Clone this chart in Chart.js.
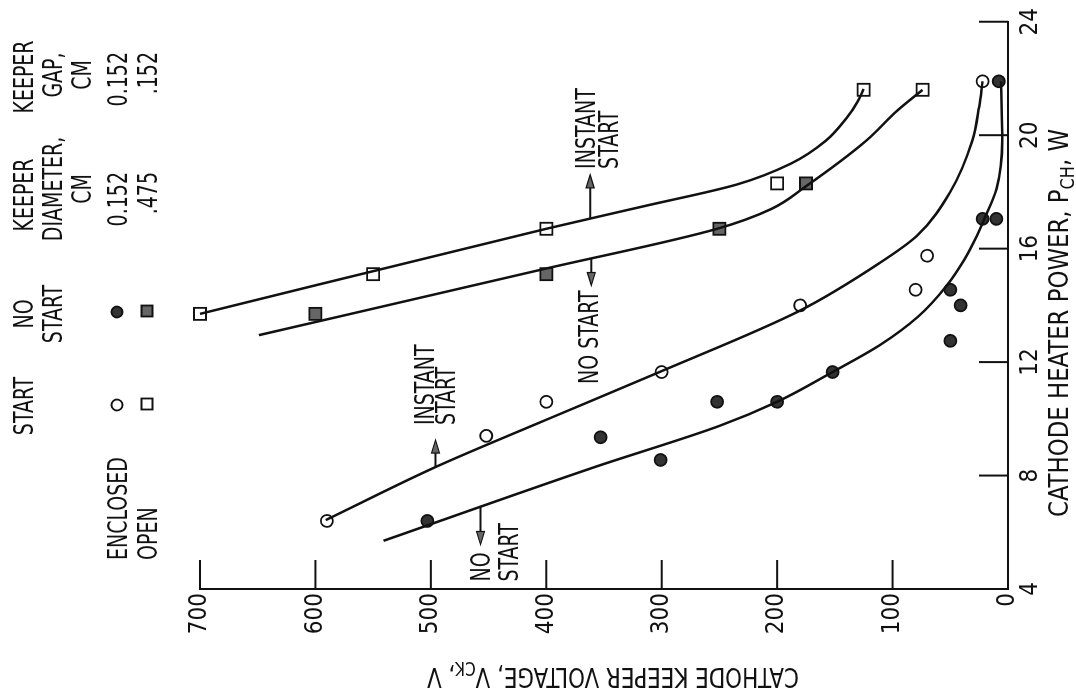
<!DOCTYPE html>
<html>
<head>
<meta charset="utf-8">
<title>Cathode keeper voltage vs heater power</title>
<script src="https://cdn.jsdelivr.net/npm/chart.js@4.4.1/dist/chart.umd.min.js"></script>
<style>
  html, body { margin: 0; padding: 0; background: #fff; overflow: hidden; }
  body { width: 1076px; height: 697px; position: relative; }
  /* the figure is printed sideways on the page: draw it upright, then turn it */
  #frame { position: absolute; left: 0; top: 697px; width: 697px; height: 1076px; transform-origin: 0 0; transform: rotate(-90deg); }
</style>
</head>
<body>
<div id="frame"><canvas id="chart" width="697" height="1076"></canvas></div>
<script>
const powerTicks = [4, 8, 12, 16, 20, 24];
const voltTicks = [0, 100, 200, 300, 400, 500, 600, 700];

// enclosed keeper (circles)
const enclStartP = [6.4, 9.4, 10.6, 11.65, 14.0, 14.55, 15.75, 21.9];
const enclStartV = [590, 452, 400, 300, 180, 80, 70, 22];
const enclNoStartP = [6.4, 8.55, 9.35, 10.6, 10.6, 11.65, 12.75, 14.0, 14.55, 17.05, 17.05, 21.9];
const enclNoStartV = [503, 301, 353, 252, 200, 152, 50, 41, 50, 22, 10, 8];

// open keeper (squares)
const openStartP = [13.7, 15.1, 16.7, 18.3, 21.6];
const openStartV = [700, 550, 400, 200, 125];
const openNoStartP = [13.7, 15.1, 16.7, 18.3];
const openNoStartV = [600, 400, 250, 175];
const openDotP = [21.6];
const openDotV = [74];

// faired boundary curves
const enclInstantP = [6.43, 8.3, 9.95, 11.65, 13.8, 15.5, 16.45, 18.0, 19.8, 21.0, 21.9];
const enclInstantV = [591, 496, 401, 302, 181, 111, 79, 50, 31, 25, 22];
const enclNoneP = [5.7, 8.3, 9.75, 10.6, 11.65, 12.6, 13.6, 14.7, 15.6, 16.45, 17.0, 18.1, 19.8, 21.9];
const enclNoneV = [541, 358, 250, 200, 152, 111, 78, 53, 38, 27, 21, 10, 5, 6];
const openInstantP = [13.7, 16.7, 17.5, 18.26, 19.0, 19.8, 20.6, 21.2, 21.63];
const openInstantV = [700, 400, 315, 235, 188, 158, 140, 130, 125];
const openNoneP = [12.95, 15.3, 16.7, 17.4, 18.2, 19.8, 20.9, 21.6];
const openNoneV = [649, 400, 252, 205, 175, 123, 95, 74];

const INK = '#111';
const FONT = '"Liberation Sans Narrow", "DejaVu Sans Condensed", "Liberation Sans", sans-serif';
const MAIN = '27px ' + FONT;
const SUB = '19px ' + FONT;
const TICK = 29;
let squeeze = 1;

const pts = (P, V) => P.map((p, i) => ({ x: p, y: V[i] }));

function seg(ctx, x1, y1, x2, y2) {
  ctx.beginPath();
  ctx.moveTo(x1, y1);
  ctx.lineTo(x2, y2);
  ctx.stroke();
}

function say(ctx, s, x, y, align, sq) {
  ctx.save();
  ctx.translate(x, y);
  ctx.scale(sq || squeeze, 1);
  ctx.textAlign = align || 'left';
  ctx.textBaseline = 'alphabetic';
  ctx.fillText(s, 0, 0);
  ctx.restore();
}

// text with a subscript part, centred on cx and stretched to a given length
function sayRuns(ctx, runs, cx, y, len) {
  let w = 0;
  runs.forEach(r => { ctx.font = r[1] ? SUB : MAIN; w += ctx.measureText(r[0]).width; });
  const sq = len / w;
  let x = cx - len / 2;
  runs.forEach(r => {
    ctx.font = r[1] ? SUB : MAIN;
    say(ctx, r[0], x, y + (r[1] ? 6 : 0), 'left', sq);
    x += ctx.measureText(r[0]).width * sq;
  });
}

function arrow(ctx, x1, y1, x2, y2) {
  const dir = Math.sign(x2 - x1);
  ctx.lineWidth = 2;
  seg(ctx, x1, y1, x2 - dir * 4, y2);
  ctx.beginPath();
  ctx.moveTo(x2, y2);
  ctx.lineTo(x2 - dir * 13, y2 - 4);
  ctx.lineTo(x2 - dir * 13, y2 + 4);
  ctx.closePath();
  ctx.fillStyle = '#666';
  ctx.fill();
  ctx.lineWidth = 1.2;
  ctx.stroke();
  ctx.fillStyle = INK;
}

function marker(ctx, kind, x, y) {
  ctx.save();
  ctx.lineWidth = 1.8;
  ctx.strokeStyle = INK;
  ctx.beginPath();
  if (kind[0] === 'c') ctx.arc(x, y, 5.5, 0, Math.PI * 2);
  else ctx.rect(x - 5.5, y - 5.5, 11, 11);
  ctx.fillStyle = kind === 'cf' ? '#333' : kind === 'sf' ? '#666' : '#fff';
  ctx.fill();
  ctx.stroke();
  ctx.restore();
}

const paperPlugin = {
  id: 'paper',
  afterDraw(chart) {
    const ctx = chart.ctx;
    const xs = chart.scales.x, ys = chart.scales.y;
    const a = chart.chartArea;
    const X = v => xs.getPixelForValue(v);
    const Y = v => ys.getPixelForValue(v);

    ctx.save();
    ctx.font = MAIN;
    squeeze = 103 / ctx.measureText('ENCLOSED').width;
    ctx.strokeStyle = INK;
    ctx.fillStyle = INK;

    // tick marks point into the plot
    ctx.lineWidth = 2;
    powerTicks.slice(1).forEach(p => seg(ctx, X(p), a.bottom, X(p), a.bottom - TICK));
    voltTicks.slice(1).forEach(v => seg(ctx, a.left, Y(v), a.left + TICK, Y(v)));

    // axis titles
    sayRuns(ctx, [['CATHODE HEATER POWER, P', false], ['CH', true], [', W', false]], 374, 1068, 388);
    ctx.save();
    ctx.translate(29, 613);
    ctx.rotate(-Math.PI / 2);
    sayRuns(ctx, [['CATHODE KEEPER VOLTAGE, V', false], ['CK', true], [', V', false]], 0, 0, 372);
    ctx.restore();

    // key table
    ctx.font = MAIN;
    say(ctx, 'START', 291, 33, 'center');
    say(ctx, 'NO', 383, 33, 'center');
    say(ctx, 'START', 383, 62, 'center');
    say(ctx, 'KEEPER', 502, 33, 'center');
    say(ctx, 'DIAMETER,', 508, 62, 'center');
    say(ctx, 'CM', 508, 91, 'center');
    say(ctx, 'KEEPER', 620, 33, 'center');
    say(ctx, 'GAP,', 622, 62, 'center');
    say(ctx, 'CM', 622, 91, 'center');
    say(ctx, 'ENCLOSED', 137, 127, 'left');
    say(ctx, 'OPEN', 137, 157, 'left');
    say(ctx, '0.152', 525, 127, 'right');
    say(ctx, '.475', 525, 157, 'right');
    say(ctx, '0.152', 645, 127, 'right');
    say(ctx, '.152', 645, 157, 'right');
    marker(ctx, 'co', 292, 117);
    marker(ctx, 'so', 293, 147);
    marker(ctx, 'cf', 385, 117);
    marker(ctx, 'sf', 386, 147);

    // start / no-start notes on the faired curves
    let y = Y(496), tip = X(9.25);
    arrow(ctx, X(8.3), y, tip, y);
    say(ctx, 'INSTANT', tip + 15, y - 1, 'left');
    say(ctx, 'START', tip + 15, y + 20, 'left');

    y = Y(457); tip = X(5.57);
    arrow(ctx, X(6.89), y, tip, y);
    say(ctx, 'NO', tip - 37, y + 10, 'left');
    say(ctx, 'START', tip - 37, y + 38, 'left');

    y = Y(362); tip = X(18.6);
    arrow(ctx, X(17.06), y, tip, y);
    say(ctx, 'INSTANT', tip + 6, y + 5, 'left');
    say(ctx, 'START', tip + 6, y + 28, 'left');

    y = Y(361); tip = X(14.7);
    arrow(ctx, X(15.67), y, tip, y);
    say(ctx, 'NO START', tip - 5, y + 7, 'right');

    ctx.restore();
  }
};

const curveStyle = { showLine: true, pointRadius: 0, borderColor: INK, borderWidth: 2.5, cubicInterpolationMode: 'monotone', fill: false, clip: false };
const markStyle = { showLine: false, pointBorderColor: INK, pointBorderWidth: 1.8, clip: false };

new Chart(document.getElementById('chart'), {
  type: 'line',
  data: {
    datasets: [
      { ...curveStyle, data: pts(enclInstantP, enclInstantV) },
      { ...curveStyle, data: pts(enclNoneP, enclNoneV) },
      { ...curveStyle, data: pts(openInstantP, openInstantV) },
      { ...curveStyle, data: pts(openNoneP, openNoneV) },
      { ...markStyle, data: pts(enclStartP, enclStartV), pointStyle: 'circle', pointRadius: 6, pointBackgroundColor: '#fff' },
      { ...markStyle, data: pts(enclNoStartP, enclNoStartV), pointStyle: 'circle', pointRadius: 6, pointBackgroundColor: '#333' },
      { ...markStyle, data: pts(openStartP, openStartV), pointStyle: 'rect', pointRadius: 8.5, pointBackgroundColor: '#fff' },
      { ...markStyle, data: pts(openNoStartP, openNoStartV), pointStyle: 'rect', pointRadius: 8.5, pointBackgroundColor: '#666' },
      { ...markStyle, data: pts(openDotP, openDotV), pointStyle: 'rect', pointRadius: 8.5, pointBackgroundColor: '#fff' },
      { ...markStyle, data: pts(openDotP, openDotV), pointStyle: 'circle', pointRadius: 1.5, pointBorderWidth: 0, pointBackgroundColor: INK }
    ]
  },
  options: {
    responsive: false,
    devicePixelRatio: 1,
    animation: false,
    events: [],
    layout: { padding: { top: 200, right: 13, left: 0, bottom: 0 } },
    plugins: { legend: { display: false }, tooltip: { enabled: false } },
    scales: {
      x: {
        type: 'linear',
        min: powerTicks[0],
        max: powerTicks[powerTicks.length - 1],
        afterBuildTicks: s => { s.ticks = powerTicks.map(v => ({ value: v })); },
        afterFit: s => { s.height = 68; },
        grid: { display: false, drawTicks: false },
        border: { display: true, color: INK, width: 2 },
        ticks: { color: INK, padding: 8, maxRotation: 0, font: { family: FONT, size: 24 } }
      },
      y: {
        type: 'linear',
        min: voltTicks[0],
        max: voltTicks[voltTicks.length - 1],
        afterBuildTicks: s => { s.ticks = voltTicks.map(v => ({ value: v })); },
        afterFit: s => { s.width = 108; },
        grid: { display: false, drawTicks: false },
        border: { display: true, color: INK, width: 2 },
        ticks: { color: INK, padding: 4, font: { family: FONT, size: 24 } }
      }
    }
  },
  plugins: [paperPlugin]
});
</script>
</body>
</html>
